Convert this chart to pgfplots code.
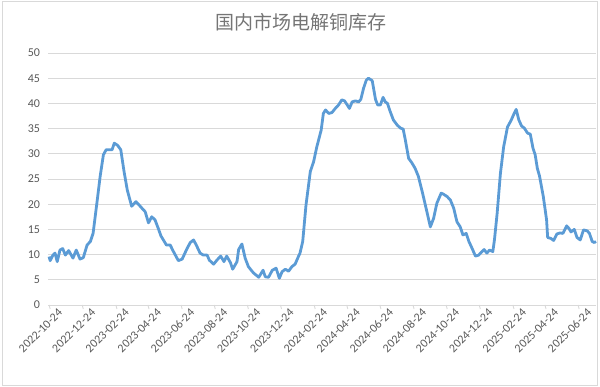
\documentclass[border=0pt]{standalone}
\usepackage{pgfplots}
\pgfplotsset{compat=1.18}
\usepackage{fontspec}
\setmainfont{Carlito}
\newfontfamily\cjk{Noto Sans CJK SC}
\definecolor{linec}{HTML}{5B9BD5}
\definecolor{gridc}{HTML}{D9D9D9}
\definecolor{txtc}{HTML}{595959}
\definecolor{titlec}{HTML}{757575}
\definecolor{framec}{HTML}{D9D9D9}
\begin{document}
\begin{tikzpicture}[x=1pt,y=1pt]
\path[use as bounding box] (0,0) rectangle (600,387);
\draw[framec,line width=0.8pt] (2.5,1.5) rectangle (597.5,386);
\node[text=titlec,font=\cjk\fontsize{19}{22}\selectfont] at (301,364.5) {国内市场电解铜库存};
\begin{axis}[
  at={(48pt,82pt)}, anchor=south west,
  scale only axis, width=548pt, height=252pt,
  xmin=-2, xmax=1007, ymin=0, ymax=50,
  axis line style={draw=none},
  ytick={0,5,...,50},
  ymajorgrids, grid style={gridc,line width=0.8pt},
  major tick length=0pt,
  xtick={0,61,123,182,243,304,365,426,488,548,609,670,731,792,854,913,974},
  xticklabels={2022-10-24,2022-12-24,2023-02-24,2023-04-24,2023-06-24,2023-08-24,2023-10-24,2023-12-24,2024-02-24,2024-04-24,2024-06-24,2024-08-24,2024-10-24,2024-12-24,2025-02-24,2025-04-24,2025-06-24},
  tick label style={text=txtc,font=\fontsize{12}{14}\selectfont},
  /pgf/number format/assume math mode=true,
  yticklabel style={xshift=-4.5pt},
  xticklabel style={rotate=45,anchor=east,xshift=5pt,yshift=-12pt,inner sep=1pt},
  clip=false,
]
\draw[gridc,line width=0.9pt] (axis cs:-2,0) -- (axis cs:1007,0);
\foreach \t in {0,61,123,182,243,304,365,426,488,548,609,670,731,792,854,913,974}
  {\edef\tmp{\noexpand\draw[gridc,line width=0.9pt] (axis cs:\t,0) -- ++(0,-4pt);}\tmp}
\addplot[linec,line width=2.8pt,line join=round,mark=none] coordinates {
(0,9.6)(2,8.8)(7,9.9)(11,10.3)(15,8.6)(20,10.9)(25,11.2)(30,9.9)(36,10.8)(44,9.3)
(50,10.9)(57,9.1)(63,9.4)(70,11.9)(76,12.6)(81,14.2)(88,20.2)(94,25.5)(100,29.8)(105,30.8)
(116,30.8)(120,32.1)(126,31.7)(132,30.8)(138,26.5)(144,22.8)(152,19.6)(160,20.5)(166,19.8)(171,19.2)
(177,18.5)(183,16.3)(189,17.5)(195,16.9)(201,15.2)(206,13.7)(216,11.9)(223,11.9)(229,10.6)(238,8.8)
(245,9.1)(254,11.2)(260,12.4)(266,12.9)(271,11.9)(278,10.3)(284,9.9)(291,9.9)(295,8.9)(303,8.1)
(309,8.9)(316,9.7)(322,8.6)(327,9.7)(334,8.4)(338,7.1)(346,8.6)(349,11.0)(355,12.1)(361,9.3)
(367,7.6)(376,6.4)(386,5.5)(394,6.9)(398,5.6)(404,5.5)(411,6.9)(418,7.3)(424,5.3)(429,6.6)
(435,7.1)(441,6.7)(447,7.6)(453,8.1)(459,9.6)(462,10.3)(467,12.6)(473,19.8)(481,26.5)(487,28.4)
(493,31.4)(501,34.7)(505,38.0)(509,38.7)(515,38.0)(521,38.2)(527,39.0)(533,39.7)(539,40.7)(544,40.5)
(549,39.7)(553,39.0)(558,40.3)(564,40.5)(570,40.3)(574,40.8)(579,43.0)(584,44.6)(588,45.0)(595,44.5)
(601,40.8)(605,39.7)(610,39.7)(615,41.2)(619,40.3)(623,40.0)(628,38.4)(634,36.7)(641,35.7)(647,35.1)
(652,34.9)(656,32.7)(662,29.1)(668,28.2)(674,27.1)(680,25.5)(687,22.5)(695,18.8)(702,15.5)(708,17.2)
(714,20.2)(722,22.2)(726,22.0)(733,21.5)(739,20.8)(745,19.2)(751,16.5)(757,15.5)(762,13.9)(768,14.2)
(773,12.6)(779,11.2)(785,9.7)(791,9.9)(797,10.6)(801,11.0)(806,10.3)(811,10.9)(817,10.6)(820,12.9)
(825,18.2)(831,26.1)(837,31.4)(844,35.3)(851,36.7)(855,37.7)(860,38.8)(865,36.7)(870,35.5)(875,35.1)
(881,34.1)(886,33.9)(891,31.1)(895,29.8)(899,27.1)(903,25.6)(910,21.5)(916,16.9)(918,13.4)(924,13.2)
(929,12.8)(935,14.1)(941,14.3)(946,14.2)(953,15.7)(957,15.2)(961,14.5)(967,15.0)(972,13.4)(978,12.9)
(984,14.9)(991,14.7)(995,14.2)(1000,12.6)(1004,12.4)(1007,12.6)
};
\end{axis}
\end{tikzpicture}
\end{document}
